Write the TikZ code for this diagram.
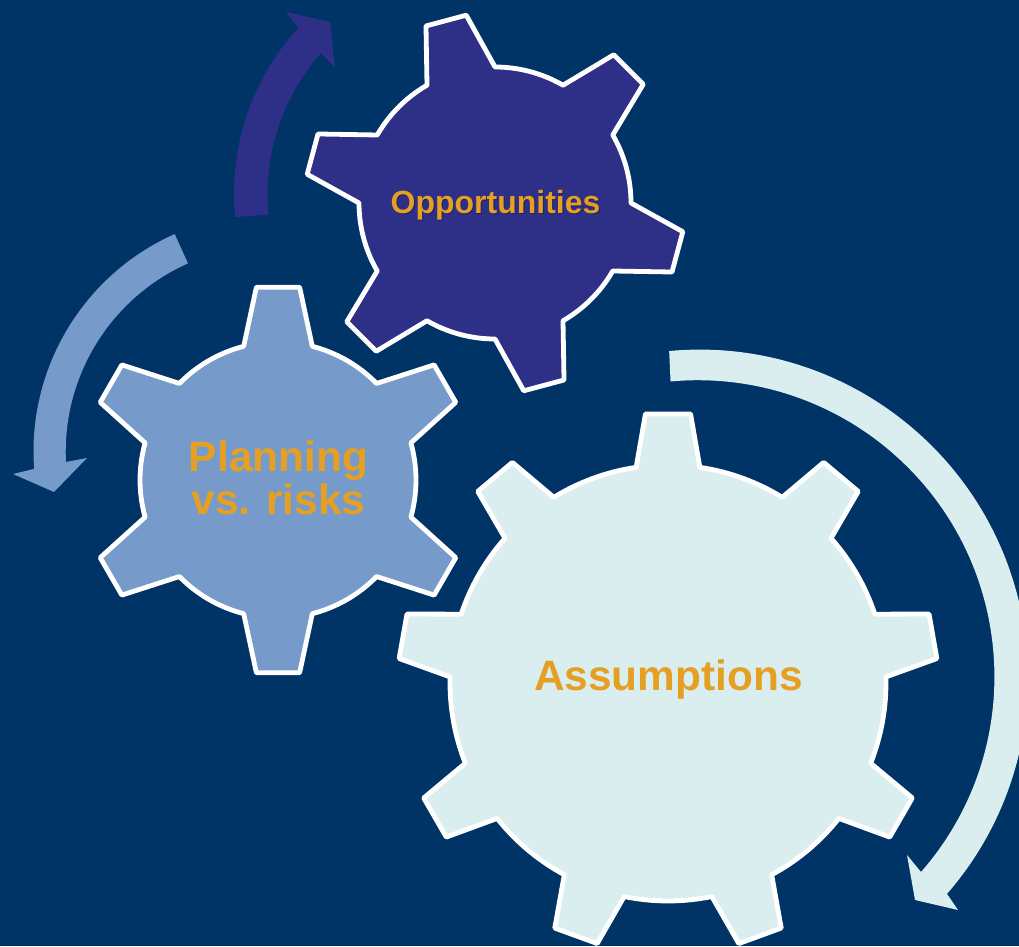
\documentclass[tikz,border=0pt]{standalone}
\usepackage{fontspec}
\setmainfont{Liberation Sans}
\definecolor{navybg}{HTML}{003366}
\definecolor{oppfill}{HTML}{2E3087}
\definecolor{planfill}{HTML}{769BCA}
\definecolor{assumefill}{HTML}{DAEEEF}
\definecolor{labelgold}{HTML}{E5A023}
\definecolor{labelshadow}{HTML}{1E2060}
\tikzset{
	gearline/.style={draw=white, line width=4.8pt, line join=round},
	geartext/.style={text=labelgold, font=\bfseries\fontsize{42.4}{43.6}\selectfont, align=center, inner sep=0pt},
}

\begin{document}
\begin{tikzpicture}[x=1pt, y=1pt]
		\useasboundingbox (0,0) rectangle (1019,946);
		\clip (0,0) rectangle (1019,946);
		\fill [fill=navybg] (0,0) rectangle (1019,946);
		% Curved arrows
		\fill [fill=oppfill] (480,752.5) ++(185.5:246) arc[start angle=185.5, end angle=137.6, radius=246]
			-- (286,934) -- (330,924) -- (335,878) -- (321,893)
			arc[start angle=138.5, end angle=185.5, radius=213] -- cycle;
		\fill [fill=planfill] (271.5,494.5) ++(114:238) arc[start angle=114, end angle=184.2, radius=238]
			-- (13,472) -- (54,454) -- (87,488) -- (66,484)
			arc[start angle=182.9, end angle=114, radius=206] -- cycle;
		\fill [fill=assumefill] (699.5,268) ++(95.3:328.4) arc[start angle=95.3, end angle=-41.1, radius=328.4]
			-- (958,36) -- (915,46) -- (907,91) -- (921,74)
			arc[start angle=-41.2, end angle=95.3, radius=296.5] -- cycle;
		% Opportunities gear
		\begin{scope}[shift={(495,743)}]
			\def\R{136} \def\Rt{190} \def\da{15} \def\dt{6.3}
			\draw[gearline, fill=oppfill] (45-\da:\R)
				\foreach \a in {45,105,...,345} {
					-- (\a-\da:\R) -- (\a-\dt:\Rt) -- (\a+\dt:\Rt) -- (\a+\da:\R)
					arc[start angle=\a+\da, end angle=\a+60-\da, radius=\R]
				} -- cycle;
		\end{scope}
		% Planning gear
		\begin{scope}[shift={(278,466)}]
			\def\R{138} \def\Rt{194} \def\da{14.4} \def\dt{6.4}
			\draw[gearline, fill=planfill] (30-\da:\R)
				\foreach \a in {30,90,...,330} {
					-- (\a-\da:\R) -- (\a-\dt:\Rt) -- (\a+\dt:\Rt) -- (\a+\da:\R)
					arc[start angle=\a+\da, end angle=\a+60-\da, radius=\R]
				} -- cycle;
		\end{scope}
		% Assumptions gear
		\begin{scope}[shift={(668,263)}]
			\def\R{218} \def\Rt{270} \def\da{8.4} \def\dt{4.8}
			\draw[gearline, fill=assumefill] (10-\da:\R)
				\foreach \a in {10,50,...,330} {
					-- (\a-\da:\R) -- (\a-\dt:\Rt) -- (\a+\dt:\Rt) -- (\a+\da:\R)
					arc[start angle=\a+\da, end angle=\a+40-\da, radius=\R]
				} -- cycle;
		\end{scope}
		% Labels
		\node[geartext, anchor=base, text=labelshadow, font=\bfseries\fontsize{32}{36}\selectfont] (oppshadow) at (496.5,731) {Opportunities};
		\node[geartext, anchor=base, font=\bfseries\fontsize{32}{36}\selectfont] (opportunities) at (495.5,732) {Opportunities};
		\node[geartext] (planning) at (278.5,468) {Planning\\vs. risks};
		\node[geartext, anchor=base] (assumptions) at (668.5,256) {Assumptions};
\end{tikzpicture}
\end{document}
